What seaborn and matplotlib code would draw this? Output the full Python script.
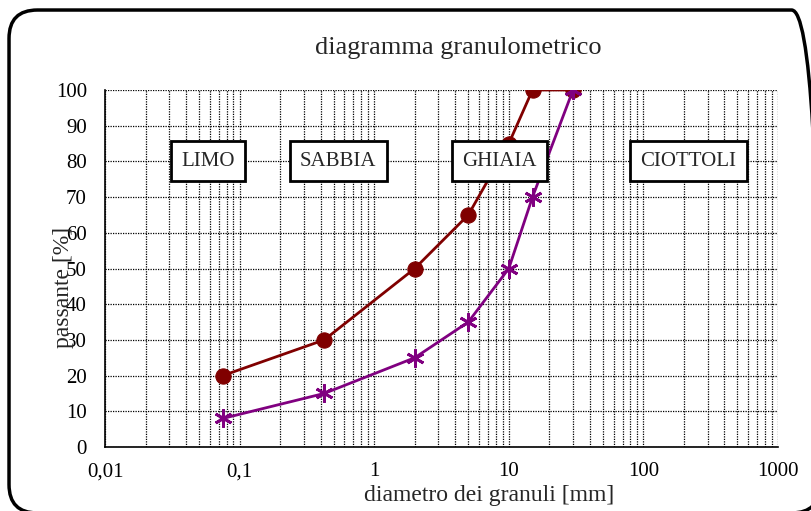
import matplotlib
matplotlib.use("Agg")
import matplotlib.pyplot as plt
import seaborn as sns
import pandas as pd
from matplotlib.patches import FancyBboxPatch
from matplotlib.ticker import FixedLocator, LogLocator, FixedFormatter, NullFormatter

# sieve data (diameter in mm, passing in %)
diam_a = [0.075, 0.425, 2, 5, 10, 15, 30]
pass_a = [20, 30, 50, 65, 85, 100, 100]
diam_b = [0.075, 0.425, 2, 5, 10, 15, 30]
pass_b = [8, 15, 25, 35, 50, 70, 100]

# soil classes shown as boxed labels
classes = ["LIMO", "SABBIA", "GHIAIA", "CIOTTOLI"]
class_x = [0.058, 0.54, 8.5, 215]
class_y = [80, 80, 80, 80]

x_ticks = [0.01, 0.1, 1, 10, 100, 1000]
x_labels = ["0,01", "0,1", "1", "10", "100", "1000"]
y_ticks = list(range(0, 101, 10))

sns.set_style("white")
plt.rcParams['font.family'] = ['Liberation Serif', 'DejaVu Serif']

fig = plt.figure(figsize=(8.11, 5.11), dpi=100)
ax = fig.add_axes([105 / 811, 1 - 447 / 511, 673 / 811, 357 / 511])

df_a = pd.DataFrame({"d": diam_a, "p": pass_a})
df_b = pd.DataFrame({"d": diam_b, "p": pass_b})

sns.lineplot(data=df_a, x="d", y="p", ax=ax, color="#800000", lw=2,
             marker="o", markersize=11, markeredgecolor="#800000", zorder=3)
sns.lineplot(data=df_b, x="d", y="p", ax=ax, color="#800080", lw=2,
             marker=(6, 2, 0), markersize=13, markeredgewidth=2,
             markeredgecolor="#800080", zorder=3)

ax.set_xscale("log")
ax.set_xlim(0.01, 1000)
ax.set_ylim(0, 100)
ax.xaxis.set_major_locator(FixedLocator(x_ticks))
ax.xaxis.set_major_formatter(FixedFormatter(x_labels))
ax.xaxis.set_minor_locator(LogLocator(base=10, subs=range(2, 10)))
ax.xaxis.set_minor_formatter(NullFormatter())
ax.set_yticks(y_ticks)

ax.grid(True, which="both", color="black", linestyle=(0, (1, 1)), lw=0.9)
ax.set_axisbelow(True)
for s in ["top", "right"]:
    ax.spines[s].set_visible(False)
for s in ["left", "bottom"]:
    ax.spines[s].set_color("black")
    ax.spines[s].set_linewidth(1.2)

ax.tick_params(axis="both", which="major", direction="inout", length=10,
               width=1.2, color="black", labelsize=15, labelcolor="black")
ax.tick_params(axis="x", which="minor", length=0)
ax.tick_params(axis="y", pad=8)
ax.tick_params(axis="x", pad=6)
ax.set_xlabel("")
ax.set_ylabel("")

for name, x, y in zip(classes, class_x, class_y):
    ax.text(x, y, name, ha="center", va="center", fontsize=15, zorder=5,
            bbox=dict(boxstyle="square,pad=0.5", fc="white", ec="black", lw=2))

fig.text(458 / 811, 1 - 48 / 511, "diagramma granulometrico", ha="center",
         va="center", fontsize=19)
fig.text(489 / 811, 1 - 495 / 511, "diametro dei granuli [mm]", ha="center",
         va="center", fontsize=17)
fig.text(63 / 811, 1 - 287 / 511, "passante [%]", ha="center", va="center",
         rotation=90, fontsize=17)

frame = FancyBboxPatch((34 / 811, 1 - 488 / 511), 761 / 811, 453 / 511,
                       boxstyle="round,pad=0.0308,rounding_size=0.035",
                       transform=fig.transFigure, fc="none", ec="black", lw=2.5,
                       mutation_aspect=811 / 511, clip_on=False)
fig.patches.append(frame)

fig.savefig("out.png", dpi=100)
